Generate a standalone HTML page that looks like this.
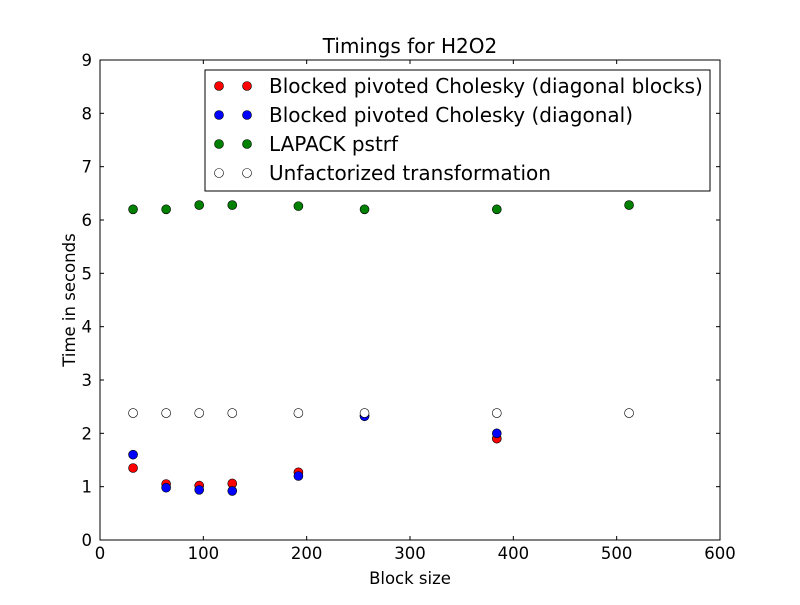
<!DOCTYPE html>
<html><head><meta charset="utf-8"><style>body{margin:0;background:#fff}svg{font-family:"DejaVu Sans","Liberation Sans",sans-serif}</style></head>
<body>
<svg id="c" width="800" height="600" xmlns="http://www.w3.org/2000/svg"></svg>
<script>
const xs = [32,64,96,128,192,256,384,512];
const redVals = [1.35,1.05,1.02,1.06,1.27,2.33,1.9,null];
const blueVals = [1.6,0.98,0.94,0.92,1.2,2.32,2.0,null];
const greenVals = [6.2,6.2,6.28,6.28,6.26,6.2,6.2,6.28];
const whiteVals = [2.38,2.38,2.38,2.38,2.38,2.38,2.38,2.38];
const xTicks = [0,100,200,300,400,500,600];
const yTicks = [0,1,2,3,4,5,6,7,8,9];
const legendLabels = ["Blocked pivoted Cholesky (diagonal blocks)","Blocked pivoted Cholesky (diagonal)","LAPACK pstrf","Unfactorized transformation"];
const colors = ["#f00","#00f","#008000","#fff"];
const L=100,R=720,T=60,B=540;
const sx=v=>L+(v-0)/600*(R-L), sy=v=>B-v/9*(B-T);
const svg=document.getElementById('c');const NS="http://www.w3.org/2000/svg";
function mk(t,a,p){const e=document.createElementNS(NS,t);for(const k in a)e.setAttribute(k,a[k]);(p||svg).appendChild(e);return e;}
const frame=mk('rect',{x:L,y:T,width:R-L,height:B-T,fill:'#fff',stroke:'#000','stroke-width':1});


xTicks.forEach(v=>{const x=sx(v);
 mk('line',{x1:x,y1:B,x2:x,y2:B-4,stroke:'#000'});mk('line',{x1:x,y1:T,x2:x,y2:T+4,stroke:'#000'});
 const t=mk('text',{x:x,y:B+19,'text-anchor':'middle','font-size':16.5});t.textContent=v;
 
 });
yTicks.forEach(v=>{const y=sy(v);
 mk('line',{x1:L,y1:y,x2:L+4,y2:y,stroke:'#000'});mk('line',{x1:R,y1:y,x2:R-4,y2:y,stroke:'#000'});
 const t=mk('text',{x:L-8,y:y+6,'text-anchor':'end','font-size':16.5});t.textContent=v;
 
 });
[[redVals,0],[blueVals,1],[greenVals,2],[whiteVals,3]].forEach(([vals,i])=>{
 vals.forEach((v,j)=>{if(v==null)return;const c=mk('circle',{cx:sx(xs[j]),cy:sy(v),r:4.5,fill:colors[i],stroke:'#000','stroke-width':0.6});
 
 });});
const title=mk('text',{x:410,y:53,'text-anchor':'middle','font-size':20});title.textContent='Timings for H2O2';


const xl=mk('text',{x:410,y:584,'text-anchor':'middle','font-size':16.5});xl.textContent='Block size';


const yl=mk('text',{x:75,y:300,'text-anchor':'middle','font-size':16.5,transform:'rotate(-90 75 300)'});yl.textContent='Time in seconds';


const lg=mk('g',{});


mk('rect',{x:205,y:70,width:505,height:121,fill:'#fff',stroke:'#000'},lg);
legendLabels.forEach((s,i)=>{const y=86+i*29;
 mk('circle',{cx:219,cy:y,r:4.5,fill:colors[i],stroke:'#000','stroke-width':0.6},lg);
 mk('circle',{cx:247,cy:y,r:4.5,fill:colors[i],stroke:'#000','stroke-width':0.6},lg);
 const t=mk('text',{x:269,y:y+7,'font-size':20},lg);t.textContent=s;
 
 });
</script>
</body></html>
